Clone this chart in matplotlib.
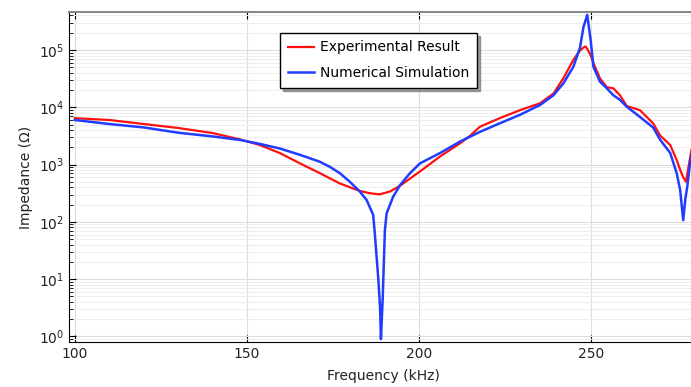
# Impedenza misurata vs simulata, asse y logaritmico
import numpy as np
import matplotlib
matplotlib.use("Agg")
import matplotlib.pyplot as plt
from matplotlib.ticker import LogLocator, MultipleLocator

# valori (kHz, Ohm)
f_exp = [100, 110, 120, 130, 140, 148, 153.8, 159.6, 165.4, 171.2, 177.0,
         182.8, 185.7, 188.6, 191.6, 194.5, 200.3, 206.1, 211.9, 214.8,
         217.7, 223.5, 229.4, 235.2, 239.1, 242.0, 244.9, 246.8, 247.8,
         248.4, 249, 249.9, 250.7, 252.6, 254.6, 256.5, 258.4, 260.4, 264.2,
         268.1, 270.1, 273, 274.9, 275.9, 276.8, 277.6, 278.3, 279.2]
z_exp = [6450, 6000, 5100, 4350, 3550, 2750, 2190, 1585, 1050, 708, 468,
         347, 316, 302, 339, 427, 759, 1380, 2340, 3160, 4570, 6460, 8910,
         11750, 17400, 32400, 67600, 98000, 110000, 115000, 102000, 81000,
         59000, 32000, 22400, 21400, 16200, 10500, 8900, 5200, 3200, 2200,
         1200, 810, 600, 500, 890, 1800]

f_sim = [100, 110, 120, 130, 140, 148, 153.8, 159.6, 165.4, 171.2, 174.1,
         177.0, 179.9, 182.8, 184.8, 186.7, 187.2, 188.2, 188.7, 188.95,
         189.45, 190.1, 190.6, 192.5, 194.5, 197.4, 200.3, 206.1, 211.9,
         217.7, 223.5, 229.4, 235.2, 239.1, 242.0, 244.9, 246.8, 247.8,
         248.9, 249.9, 250.7, 252.6, 254.6, 256.5, 258.4, 260.4, 264.2,
         268.1, 270.1, 273, 274.9, 275.9, 276.8, 277.4, 278, 278.8, 279.5]
z_sim = [6000, 5100, 4450, 3600, 3100, 2690, 2290, 1905, 1480, 1120, 912,
         708, 501, 339, 240, 132, 60, 9.8, 3.2, 0.9, 4.4, 72, 141, 275, 437,
         708, 1050, 1585, 2510, 3720, 5250, 7410, 10960, 16200, 26300,
         51300, 110000, 250000, 410000, 148000, 51000, 28000, 21400, 16200,
         13500, 10200, 6800, 4400, 2700, 1600, 710, 360, 107, 250, 420, 1100,
         1800]

fig = plt.figure(figsize=(6.91, 3.87), dpi=100)
ax = fig.add_axes([69 / 691, 45 / 387, 628 / 691, 330 / 387])

ax.plot(f_exp, z_exp, color="#ff1010", lw=1.6, label="Experimental Result")
ax.plot(f_sim, z_sim, color="#1f3cff", lw=1.8, label="Numerical Simulation")

ax.set_yscale("log")
ax.set_xlim(98.3, 280.8)
ax.set_ylim(0.80, 4.6e5)
ax.xaxis.set_major_locator(MultipleLocator(50))
ax.yaxis.set_major_locator(LogLocator(base=10, numticks=10))
ax.yaxis.set_minor_locator(LogLocator(base=10, subs=np.arange(2, 10), numticks=20))

ax.grid(True, which="major", color="#dddddd", lw=0.8)
ax.grid(True, which="minor", axis="y", color="#ededed", lw=0.7)
ax.set_axisbelow(True)

ax.tick_params(which="both", direction="in", top=True, right=False,
               labelsize=10, labelcolor="#222222")
ax.tick_params(which="major", length=5)
ax.tick_params(which="minor", length=3)
ax.spines["top"].set_color("#888888")
ax.spines["top"].set_linewidth(1.5)
ax.spines["right"].set_visible(False)

ax.set_xlabel("Frequency (kHz)", fontsize=10, color="#222222", labelpad=6)
ax.set_ylabel("Impedance (Ω)", fontsize=10, color="#222222", labelpad=4)

leg = ax.legend(loc="upper left", bbox_to_anchor=(0.325, 0.958), fontsize=10,
                fancybox=False, shadow=True, framealpha=1, edgecolor="black",
                handlelength=1.9, handletextpad=0.45, borderpad=0.55,
                labelspacing=0.85)
leg.get_frame().set_linewidth(1.0)

fig.savefig("out.png", dpi=100)
print("salvato: out.png")
